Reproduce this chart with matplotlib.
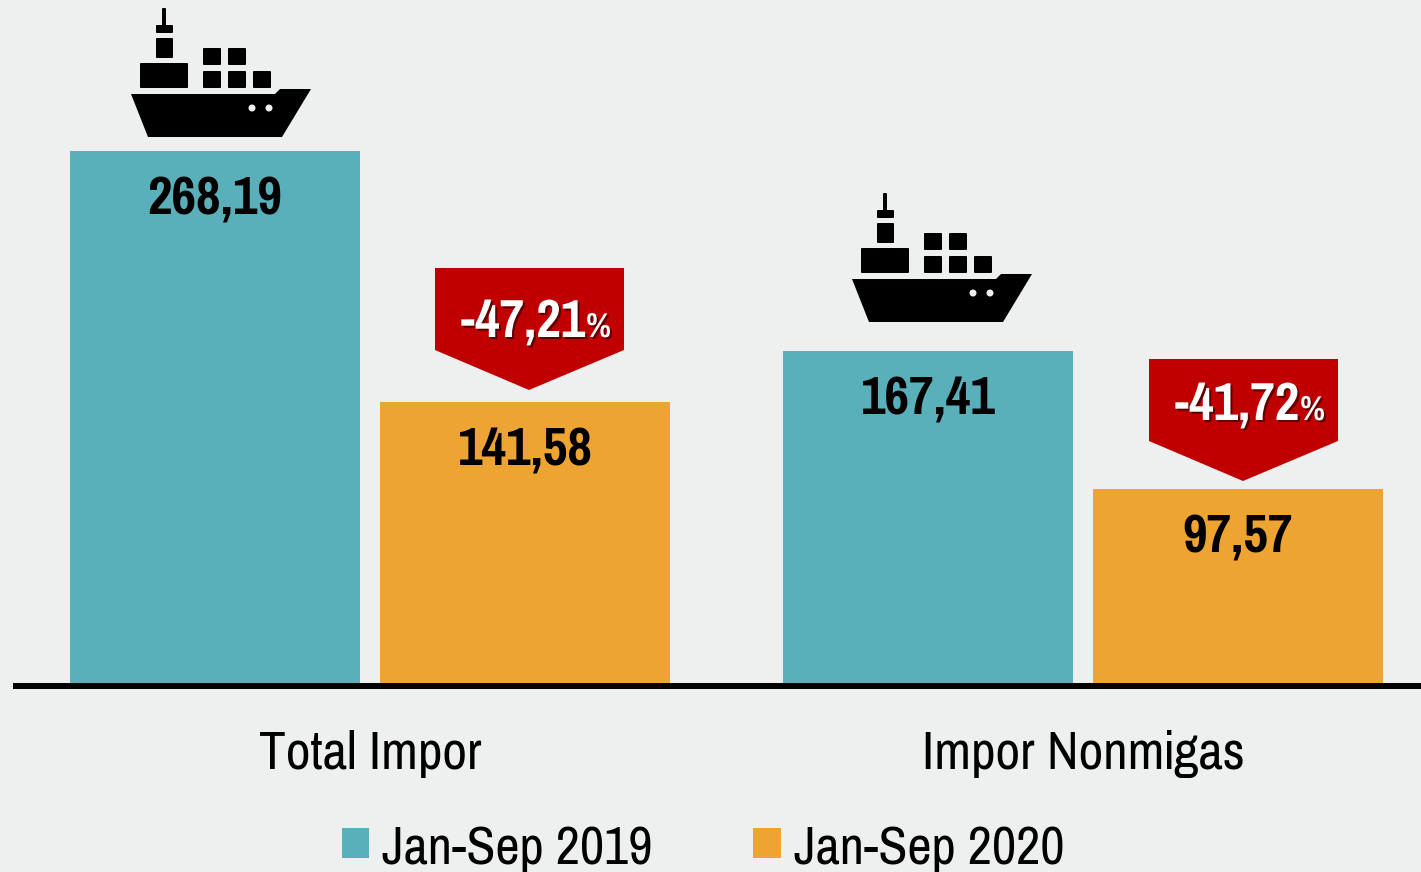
import matplotlib
matplotlib.use('Agg')
import matplotlib.pyplot as plt
from matplotlib.patches import Circle, FancyBboxPatch, Polygon
from matplotlib.transforms import Affine2D
import matplotlib.patheffects as pe

categories = ['Total Impor', 'Impor Nonmigas']
series_names = ['Jan-Sep 2019', 'Jan-Sep 2020']
values_2019 = [268.19, 167.41]
values_2020 = [141.58, 97.57]
changes = ['-47,21', '-41,72']

BG = '#EEF0EF'
TEAL = '#59AFBA'
ORANGE = '#EEA432'
RED = '#C00000'

plt.rcParams['font.family'] = ['Pragati Narrow', 'Liberation Sans']

fig = plt.figure(figsize=(14.21, 8.72), dpi=100, facecolor=BG)
ax = fig.add_axes([0, 0, 1, 1])
ax.set_facecolor(BG)

# one x unit is the distance between the two groups (713 px), y is 1.984 px per unit
ax.set_xlim(-370 / 713, 1051 / 713)
ax.set_ylim(-189 / 1.984, 683 / 1.984)
ax.axis('off')

width = 290 / 713
offset = 155 / 713
xs = list(range(len(categories)))

bars1 = ax.bar([x - offset for x in xs], values_2019, width, color=TEAL, label=series_names[0])
bars2 = ax.bar([x + offset for x in xs], values_2020, width, color=ORANGE, label=series_names[1])

# pixel coordinates, origin top left like the picture
px = Affine2D().scale(1, -1).translate(0, 872)

ax.plot([13, 1421], [686, 686], color='black', lw=4.3, transform=px, solid_capstyle='butt', zorder=5)


def fmt(v):
    return f'{v:.2f}'.replace('.', ',')


for bar_list, vals in ((bars1, values_2019), (bars2, values_2020)):
    for b, v in zip(bar_list, vals):
        ax.annotate(fmt(v), (b.get_x() + b.get_width() / 2, v), xytext=(0, -45.5), textcoords='offset points',
                    ha='center', va='baseline', fontsize=42, fontweight='bold', color='black', zorder=6)

for x, name in zip(xs, categories):
    ax.annotate(name, (x, 0), xytext=(0, -62), textcoords='offset points', ha='center', va='baseline',
                fontsize=42, color='black')


def ship(dx, dy):
    t = Affine2D().translate(dx, dy) + px
    boxes = [(42, 8, 4, 20), (36, 25, 17, 8), (36, 38, 17, 20), (20, 63, 48, 25),
             (83, 48, 18, 17), (108, 48, 18, 17), (83, 71, 18, 17), (108, 71, 18, 17), (133, 71, 18, 17)]
    for x, y, w, h in boxes:
        ax.add_patch(FancyBboxPatch((x + 1, y + 1), w - 2, h - 2, boxstyle='round,pad=1', fc='black', ec='none',
                                    transform=t, zorder=4))
    hull = [(11, 94), (155, 94), (160, 89), (191, 89), (162, 137), (28, 137)]
    ax.add_patch(Polygon(hull, closed=True, fc='black', ec='none', transform=t, zorder=4))
    for x in (132, 149):
        ax.add_patch(Circle((x, 108), 3.5, fc=BG, ec='none', transform=t, zorder=5))


ship(120, 0)
ship(841, 185)


def badge(x0, y0, base, text):
    t = Affine2D().translate(x0, y0) + px
    pts = [(0, 0), (189, 0), (189, 82), (94, 122), (0, 82)]
    ax.add_patch(Polygon(pts, closed=True, fc=RED, ec='none', transform=t, zorder=4))
    shadow = [pe.withSimplePatchShadow(offset=(1.5, -1.5), shadow_rgbFace='#4a0000', alpha=0.8)]
    ax.text(150.5, base, text, transform=t, ha='right', va='baseline', fontsize=42,
            fontweight='bold', color='white', zorder=6, path_effects=shadow)
    ax.text(151, base, '%', transform=t, ha='left', va='baseline', fontsize=27,
            fontweight='bold', color='white', zorder=6, path_effects=shadow)


badge(435, 268, 69, changes[0])
badge(1149, 359, 61, changes[1])

ax.legend(handles=[bars1, bars2], labels=series_names, loc='center', bbox_to_anchor=(703 / 1421, 1 - 849 / 872),
          bbox_transform=fig.transFigure, ncol=2, frameon=False, fontsize=41.5, handlelength=0.48, handleheight=0.42,
          handletextpad=0.22, columnspacing=1.75, labelcolor='black', borderpad=0)

fig.savefig('out.png', dpi=100, facecolor=BG)
